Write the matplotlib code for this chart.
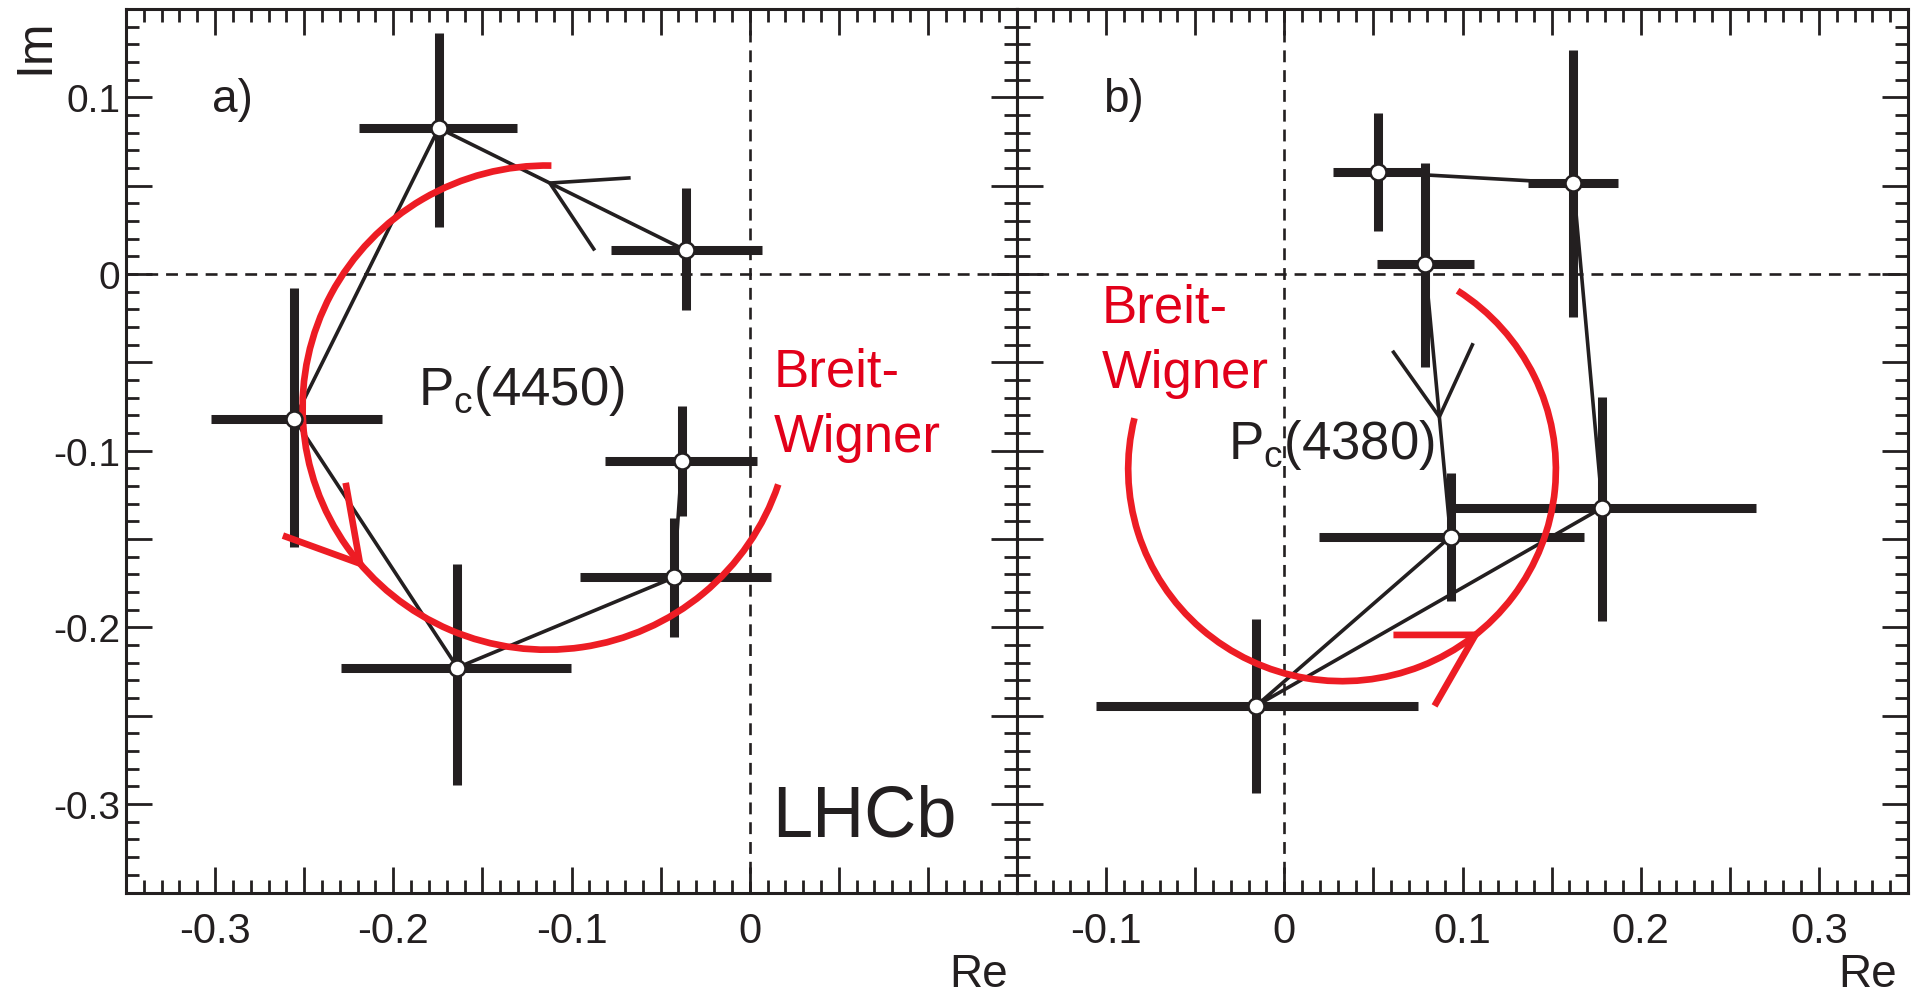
import numpy as np
import matplotlib
matplotlib.use("Agg")
import matplotlib.pyplot as plt
from matplotlib.patches import Arc
from matplotlib.ticker import MultipleLocator, FuncFormatter

plt.rcParams['font.family'] = ['Liberation Sans', 'DejaVu Sans']
plt.rcParams['mathtext.fontset'] = 'custom'
plt.rcParams['mathtext.rm'] = 'Liberation Sans'
plt.rcParams['mathtext.it'] = 'Liberation Sans:italic'

# ---------------- data (path order) ----------------
# panel a) Pc(4450)
a_re     = [-0.0360, -0.1745, -0.2555, -0.1640, -0.0425, -0.0380]
a_re_lo  = [0.0420, 0.0450, 0.0470, 0.0655, 0.0526, 0.0433]
a_re_hi  = [0.0430, 0.0440, 0.0490, 0.0637, 0.0544, 0.0421]
a_im     = [0.0135, 0.0826, -0.0820, -0.2227, -0.1717, -0.1059]
a_im_lo  = [0.0340, 0.0557, 0.0727, 0.0664, 0.0337, 0.0309]
a_im_hi  = [0.0350, 0.0540, 0.0741, 0.0584, 0.0334, 0.0313]

# panel b) Pc(4380)
b_re     = [0.0790, 0.0933, -0.0157, 0.1785, 0.1622, 0.0527]
b_re_lo  = [0.0270, 0.0739, 0.0902, 0.0827, 0.0256, 0.0253]
b_re_hi  = [0.0273, 0.0747, 0.0907, 0.0864, 0.0250, 0.0268]
b_im     = [0.0055, -0.1486, -0.2443, -0.1322, 0.0514, 0.0576]
b_im_lo  = [0.0583, 0.0365, 0.0492, 0.0642, 0.0755, 0.0330]
b_im_hi  = [0.0571, 0.0358, 0.0493, 0.0625, 0.0754, 0.0337]

# Breit-Wigner circles: centre, radius, start/end angle (deg), arrow angle (deg)
bw_a = dict(cx=-0.1139, cy=-0.0756, r=0.1370, t1=88.9, t2=341.5, tarrow=220.1)
bw_b = dict(cx=0.0324, cy=-0.1104, r=0.1200, t1=166.1, t2=417.3, tarrow=308.6)

# axis ranges and tick labels
xlim_a = (-0.35, 0.15)
xlim_b = (-0.15, 0.35)
ylim = (-0.35, 0.15)
xlabels_a = ['-0.3', '-0.2', '-0.1', '0']
xlabels_b = ['-0.1', '0', '0.1', '0.2', '0.3']
ylabels = ['-0.3', '-0.2', '-0.1', '0', '0.1']

BLACK = '#231f20'
RED = '#ed1c24'
REDTXT = '#e2001a'

fig = plt.figure(figsize=(19.19, 9.95), dpi=100)
W, H = 1919.0, 995.0
axb_y = 1 - 893.5 / H
axh = 883.5 / H
ax1 = fig.add_axes([126 / W, axb_y, 891 / W, axh])
ax2 = fig.add_axes([1017 / W, axb_y, 891 / W, axh])


def make_fmt(labels):
    vals = {round(float(s), 3): s for s in labels}

    def f(v, pos):
        return vals.get(round(v, 3), '')
    return FuncFormatter(f)


for ax, xl, xlabs in [(ax1, xlim_a, xlabels_a), (ax2, xlim_b, xlabels_b)]:
    ax.set_xlim(*xl)
    ax.set_ylim(*ylim)
    ax.xaxis.set_major_locator(MultipleLocator(0.05))
    ax.xaxis.set_minor_locator(MultipleLocator(0.01))
    ax.yaxis.set_major_locator(MultipleLocator(0.05))
    ax.yaxis.set_minor_locator(MultipleLocator(0.01))
    ax.xaxis.set_major_formatter(make_fmt(xlabs))
    ax.yaxis.set_major_formatter(make_fmt(ylabels))
    ax.tick_params(which='both', direction='in', top=True, right=True,
                   color=BLACK, width=2.0, labelcolor=BLACK)
    ax.tick_params(which='major', length=18.5)
    ax.tick_params(which='minor', length=9.5)
    ax.tick_params(axis='x', labelsize=30, pad=13)
    ax.tick_params(axis='y', labelsize=28, pad=4)
    for sp in ax.spines.values():
        sp.set_linewidth(2.2)
        sp.set_color(BLACK)
    ax.axhline(0, color=BLACK, lw=1.9, ls=(0, (4.5, 3)), zorder=1)
    ax.axvline(0, color=BLACK, lw=1.9, ls=(0, (4.5, 3)), zorder=1)

ax2.tick_params(axis='y', labelleft=False)


def barbs(ax, tip, toward, length=81.0, half=30.0, tilt=0.0, **kw):
    """draw arrow head barbs at tip (data), pointing along direction toward->tip"""
    T = ax.transData
    tp = T.transform(tip)
    q = T.transform(toward)
    d = tp - q
    d = d / np.hypot(*d)
    t = np.deg2rad(tilt)
    d = np.array([[np.cos(t), -np.sin(t)], [np.sin(t), np.cos(t)]]).dot(d)
    back = -d
    pts = []
    for s in (+1, -1):
        a = np.deg2rad(s * half)
        rot = np.array([[np.cos(a), -np.sin(a)], [np.sin(a), np.cos(a)]])
        pts.append(tp + length * rot.dot(back))
    inv = T.inverted()
    e1 = inv.transform(pts[0])
    e2 = inv.transform(pts[1])
    ax.plot([e1[0], tip[0], e2[0]], [e1[1], tip[1], e2[1]], **kw)


def draw_panel(ax, re, re_lo, re_hi, im, im_lo, im_hi, bw, seg, tfrac, red_tilt):
    ax.errorbar(re, im, xerr=[re_lo, re_hi], yerr=[im_lo, im_hi], fmt='none',
                ecolor=BLACK, elinewidth=6.5, capsize=0, zorder=2)
    ax.plot(re, im, color=BLACK, lw=2.6, zorder=3, solid_capstyle='butt')
    # arrow on path segment
    p0 = np.array([re[seg], im[seg]])
    p1 = np.array([re[seg + 1], im[seg + 1]])
    tip = p0 + tfrac * (p1 - p0)
    barbs(ax, tip, p0, length=81, color=BLACK, lw=2.6, zorder=3,
          solid_capstyle='butt')
    # Breit-Wigner circle
    arc = Arc((bw['cx'], bw['cy']), 2 * bw['r'], 2 * bw['r'], theta1=bw['t1'],
              theta2=bw['t2'], color=RED, lw=4.8, zorder=4)
    ax.add_patch(arc)
    th = np.deg2rad(bw['tarrow'])
    tipr = np.array([bw['cx'] + bw['r'] * np.cos(th), bw['cy'] + bw['r'] * np.sin(th)])
    prev = np.array([bw['cx'] + bw['r'] * np.cos(th - 0.01), bw['cy'] + bw['r'] * np.sin(th - 0.01)])
    barbs(ax, tipr, prev, length=82, tilt=red_tilt, color=RED, lw=4.8, zorder=4,
          solid_capstyle='butt')
    ax.plot(re, im, ls='none', marker='o', ms=11.5, mfc='white', mec=BLACK,
            mew=1.8, zorder=5)


draw_panel(ax1, a_re, a_re_lo, a_re_hi, a_im, a_im_lo, a_im_hi, bw_a, 0, 0.55, 0.0)
draw_panel(ax2, b_re, b_re_lo, b_re_hi, b_im, b_im_lo, b_im_hi, bw_b, 0, 0.56, -8.0)

# texts
ax1.text(-0.3015, 0.0924, 'a)', fontsize=33, color=BLACK, va='baseline', ha='left')
ax2.text(-0.1015, 0.0924, 'b)', fontsize=33, color=BLACK, va='baseline', ha='left')
ax1.text(-0.1860, -0.0736, r'P$_{\rm c}$(4450)', fontsize=38, color=BLACK,
         va='baseline', ha='left', zorder=6)
ax2.text(-0.0315, -0.1041, r'P$_{\rm c}$(4380)', fontsize=38, color=BLACK,
         va='baseline', ha='left', zorder=6)
ax1.text(0.0135, -0.0632, 'Breit-', fontsize=38, color=REDTXT, va='baseline', ha='left')
ax1.text(0.0135, -0.1000, 'Wigner', fontsize=38, color=REDTXT, va='baseline', ha='left')
ax2.text(-0.1024, -0.0269, 'Breit-', fontsize=38, color=REDTXT, va='baseline', ha='left')
ax2.text(-0.1024, -0.0641, 'Wigner', fontsize=38, color=REDTXT, va='baseline', ha='left')
ax1.text(0.0125, -0.3179, 'LHCb', fontsize=52, color=BLACK, va='baseline', ha='left')

# axis titles
fig.text(1008.3 / W, 1 - 987.5 / H, 'Re', fontsize=33, color=BLACK, ha='right', va='baseline')
fig.text(1897.0 / W, 1 - 987.5 / H, 'Re', fontsize=33, color=BLACK, ha='right', va='baseline')
fig.text(48.5 / W, 1 - 18.3 / H, 'Im', fontsize=36, color=BLACK, rotation=90,
         rotation_mode='anchor', ha='right', va='baseline')

fig.savefig('out.png', dpi=100)
